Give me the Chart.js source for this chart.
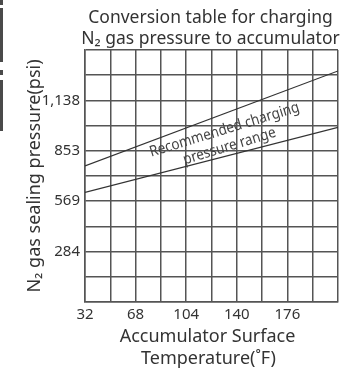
<!DOCTYPE html>
<html><head><meta charset="utf-8">
<script src="https://cdn.jsdelivr.net/npm/chart.js@4"></script>
<style>
html,body{margin:0;padding:0;background:#fff;overflow:hidden}
#wrap{position:relative;width:362px;height:372px}
canvas{display:block}
.bar{position:absolute;left:0;width:3px;background:#4a4a4a}
</style></head><body>
<div id="wrap">
<canvas id="c" width="362" height="372"></canvas>
<div class="bar" style="top:0;height:5px"></div>
<div class="bar" style="top:8px;height:54px"></div>
<div class="bar" style="top:70px;height:5px"></div>
<div class="bar" style="top:80px;height:51px"></div>
</div>
<script>
const temperatureF = [32, 212];
const upperPressure = [768, 1304];
const lowerPressure = [619, 986];
const xTickValues = [32, 50, 68, 86, 104, 122, 140, 158, 176, 194, 212];
const xTickLabels = ['32', '', '68', '', '104', '', '140', '', '176', '', ''];
const yTickValues = [0, 142.2, 284.5, 426.7, 569, 711.2, 853.4, 995.6, 1138, 1280.1, 1422.3];
const yTickLabels = ['', '', '284', '', '569', '', '853', '', '1,138', '', ''];
const titleLines = ['Conversion table for charging', 'N₂ gas pressure to accumulator'];
const xTitleLines = ['Accumulator Surface', 'Temperature(˚F)'];
const yTitle = 'N₂ gas sealing pressure(psi)';
const rangeLabel = ['Recommended charging', 'pressure range'];
const rangeLabelAnchor = {x: 133, y: 925};

const FONT = '"Noto Sans", sans-serif';
const TEXT = '#333';
const GRID = '#555';

const textPlugin = {
  id: 'texts',
  afterDraw(chart) {
    const ctx = chart.ctx, ca = chart.chartArea;
    const cx = (ca.left + ca.right) / 2;
    ctx.save();
    ctx.fillStyle = TEXT;
    ctx.textAlign = 'center';
    ctx.textBaseline = 'middle';
    ctx.font = '17.5px ' + FONT;
    ctx.fillText(titleLines[0], cx - 1, 18);
    ctx.fillText(titleLines[1], cx - 1, 39);
    ctx.font = '18px ' + FONT;
    ctx.fillText(xTitleLines[0], cx - 4, 337);
    ctx.fillText(xTitleLines[1], cx - 3, 359);
    ctx.save();
    ctx.translate(35, (ca.top + ca.bottom) / 2);
    ctx.rotate(-Math.PI / 2);
    ctx.fillText(yTitle, 0, 0);
    ctx.restore();
    const px = chart.scales.x.getPixelForValue(rangeLabelAnchor.x);
    const py = chart.scales.y.getPixelForValue(rangeLabelAnchor.y);
    ctx.save();
    ctx.translate(px, py);
    ctx.rotate(-17 * Math.PI / 180);
    ctx.scale(0.9, 1);
    ctx.font = '15px ' + FONT;
    ctx.fillStyle = '#444';
    ctx.fillText(rangeLabel[0], 0, -8.6);
    ctx.fillText(rangeLabel[1], 0, 8.6);
    ctx.restore();
    ctx.restore();
  }
};

new Chart(document.getElementById('c'), {
  type: 'line',
  data: {
    datasets: [
      {data: temperatureF.map((t, i) => ({x: t, y: upperPressure[i]})), borderColor: '#333', borderWidth: 1.2, pointRadius: 0, fill: false},
      {data: temperatureF.map((t, i) => ({x: t, y: lowerPressure[i]})), borderColor: '#333', borderWidth: 1.2, pointRadius: 0, fill: false}
    ]
  },
  options: {
    responsive: false,
    animation: false,
    devicePixelRatio: 1,
    layout: {padding: {top: 50, right: 24, left: 0, bottom: 0}},
    plugins: {legend: {display: false}, tooltip: {enabled: false}, title: {display: false}},
    scales: {
      x: {
        type: 'linear', min: 32, max: 212,
        afterBuildTicks: s => { s.ticks = xTickValues.map(v => ({value: v})); },
        afterFit: s => { s.height = 70; },
        ticks: {callback: (v, i) => xTickLabels[i], autoSkip: false, maxRotation: 0, padding: 4, color: TEXT, font: {family: FONT, size: 15}},
        grid: {color: GRID, lineWidth: 1.5, drawTicks: false},
        border: {color: GRID, width: 1.5}
      },
      y: {
        type: 'linear', min: 0, max: 1422.3,
        afterBuildTicks: s => { s.ticks = yTickValues.map(v => ({value: v})); },
        afterFit: s => { s.width = 85; },
        ticks: {callback: (v, i) => yTickLabels[i], autoSkip: false, padding: 5, color: TEXT, font: {family: FONT, size: 15}},
        grid: {color: GRID, lineWidth: 1.5, drawTicks: false},
        border: {color: GRID, width: 1.5}
      }
    }
  },
  plugins: [textPlugin]
});
</script>
</body></html>
